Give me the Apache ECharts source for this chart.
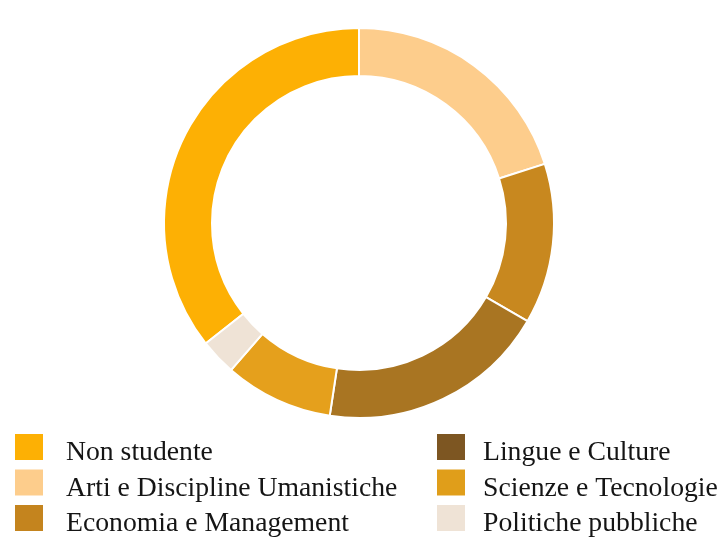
<!DOCTYPE html>
<html>
<head>
<meta charset="utf-8">
<script src="https://cdn.jsdelivr.net/npm/echarts@6/dist/echarts.min.js"></script>
<style>
  html, body { margin: 0; padding: 0; background: #ffffff; }
  #chart { width: 725px; height: 540px; }
</style>
</head>
<body>
<div id="chart"></div>
<script>
// Share of respondents by study area
const categories = [
  'Non studente',
  'Arti e Discipline Umanistiche',
  'Economia e Management',
  'Lingue e Culture',
  'Scienze e Tecnologie',
  'Politiche pubbliche'
];
const values = [35.6, 20.1, 13.3, 19.0, 9.0, 3.0];
const ringColors = ['#FDB004', '#FDCD8C', '#C8881F', '#A97522', '#E5A01C', '#EFE3D6'];
const swatchColors = ['#FDB004', '#FDCD8C', '#C4841E', '#7D5622', '#E09E1A', '#EFE3D6'];

const total = values.reduce((a, b) => a + b, 0);
// The first slice ends at twelve o'clock; every other slice follows clockwise from there.
const startAngle = 90 + 360 * values[0] / total;

const chart = echarts.init(document.getElementById('chart'), null, { renderer: 'canvas' });

const legendData = categories.map((name, i) => ({
  name: name,
  itemStyle: { color: swatchColors[i] }
}));

// Serif legend text, sitting slightly lower than its swatch
const legendText = (padLeft) => ({
  fontFamily: 'Liberation Serif',
  fontSize: 27.7,
  color: '#151515',
  rich: {
    t: {
      fontFamily: 'Liberation Serif',
      fontSize: 27.7,
      color: '#151515',
      lineHeight: 28,
      padding: [12, 0, 0, padLeft]
    }
  }
});

const legendBase = {
  orient: 'vertical',
  top: 427,
  height: 200,
  itemWidth: 30,
  itemHeight: 28,
  itemGap: -4.5,
  icon: 'rect',
  selectedMode: false,
  padding: 0,
  formatter: '{t|{name}}'
};

chart.setOption({
  animation: false,
  legend: [
    Object.assign({}, legendBase, {
      data: legendData.slice(0, 3),
      left: 13,
      textStyle: legendText(17)
    }),
    Object.assign({}, legendBase, {
      data: legendData.slice(3),
      left: 435,
      textStyle: legendText(12)
    })
  ],
  series: [{
    type: 'pie',
    center: [359, 223],
    radius: [147, 195],
    startAngle: startAngle,
    clockwise: true,
    avoidLabelOverlap: false,
    label: { show: false },
    labelLine: { show: false },
    emphasis: { disabled: true },
    itemStyle: { borderColor: '#ffffff', borderWidth: 2 },
    data: categories.map((name, i) => ({
      name: name,
      value: values[i],
      itemStyle: { color: ringColors[i] }
    }))
  }]
});
</script>
</body>
</html>
